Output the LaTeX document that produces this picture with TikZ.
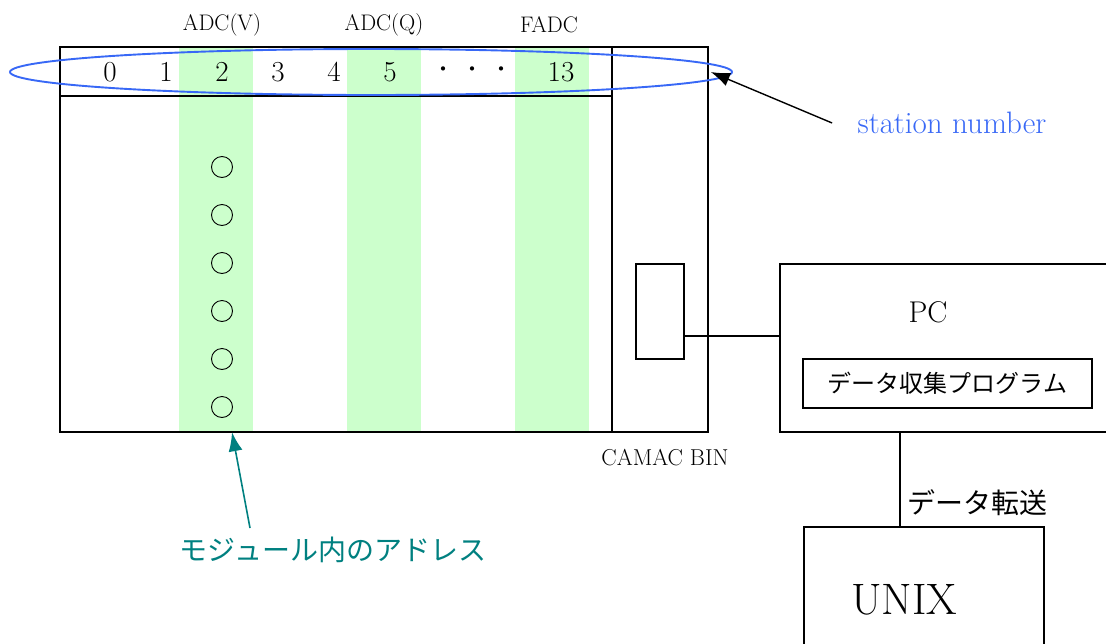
\documentclass[tikz,border=0pt]{standalone}
\usepackage{fontspec}
\newfontfamily\jfont{Noto Sans CJK JP}
\usepackage{tikz}
\usetikzlibrary{arrows.meta,positioning,calc,shapes.geometric}
\definecolor{slotgreen}{RGB}{204,255,204}
\definecolor{ringblue}{RGB}{56,104,246}
\definecolor{noteteal}{RGB}{0,128,128}

\begin{document}
\begin{tikzpicture}[
  x=1pt, y=-1pt,
  >={Latex[length=19pt, width=14pt]},
  box/.style={draw, line width=1.6pt, inner sep=0pt},
  slot/.style={fill=slotgreen, inner sep=0pt, minimum width=74pt, minimum height=385pt},
  hole/.style={circle, draw, line width=0.9pt, minimum size=21pt, inner sep=0pt},
  mod/.style={font=\fontsize{22.5}{24}\selectfont},
  num/.style={font=\fontsize{29}{31}\selectfont},
  big/.style={font=\fontsize{31}{33}\selectfont},
  jp/.style={font=\fontsize{28}{30}\selectfont\jfont},
]
\useasboundingbox (0,0) rectangle (1106,643);
\def\rowy{72}

% ---- module slots ------------------------------------------------------------
\foreach \x/\n in {216/s2, 384/s5, 552/s13}
  \node[slot] (\n) at (\x,239.5) {};

% ---- crate -----------------------------------------------------------------
\node[box, minimum width=648pt, minimum height=385pt] (crate) at (384,239.5) {};
\draw[line width=1.6pt] (612,47) -- (612,432);
\draw[line width=1.6pt] (60,96) -- (612,96);
\node[font=\fontsize{23}{25}\selectfont] (bin) at (665,458) {CAMAC BIN};

% ---- station numbers -----------------------------------------------------------
\foreach \n/\x in {0/110, 1/166, 2/222, 3/278, 4/334, 5/390, 13/561}
  \node[num] (st\n) at (\x,\rowy) {\n};
\foreach \i/\x in {1/443, 2/472, 3/501}
  \node[font=\fontsize{20}{22}\selectfont\jfont, inner sep=0pt] (dot\i) at (\x,\rowy) {・};
\node[mod] (adcv) at (222,25) {ADC(V)};
\node[mod] (adcq) at (384,25) {ADC(Q)};
\node[mod] (fadc) at (549,25) {FADC};

% ---- sub-addresses in slot 2 -------------------------------------------------
\foreach \i in {1,...,6}
  \node[hole] (a\i) at (222,{167+48*(\i-1)}) {};

% ---- station number marker -------------------------------------------------------
\node[ellipse, draw=ringblue, line width=1.9pt, minimum width=722pt, minimum height=46pt,
      inner sep=0pt] (ring) at (371,72) {};
\node[big, text=ringblue] (stn) at (952,123) {station number};
\draw[->, line width=1.4pt] ([xshift=-22pt]stn.west) -- ([xshift=2pt]crate.east |- ring.center);

% ---- sub-address note --------------------------------------------------------
\node[jp, text=noteteal] (addr) at (333,550) {モジュール内のアドレス};
\coordinate (addrtail) at (250,528);
\draw[->, noteteal, line width=1.6pt] (addrtail) -- ([xshift=16pt]s2.south);

% ---- interface and PC --------------------------------------------------------------
\node[box, minimum width=48pt, minimum height=95pt] (iface) at (660,311.5) {};
\node[box, minimum width=340pt, minimum height=168pt] (pc) at (950,348) {};
\node[font=\fontsize{30}{32}\selectfont] (pclbl) at (928,312) {PC};
\node[box, minimum width=289pt, minimum height=49pt, font=\fontsize{24}{26}\selectfont\jfont]
  (prog) at (947.5,383.5) {データ収集プログラム};
\coordinate (link) at (684,336);
\draw[line width=1.6pt] (link) -- (link -| pc.west);

% ---- UNIX ------------------------------------------------------------------
\node[box, minimum width=240pt, minimum height=140pt] (unix) at (924,597) {};
\node[font=\fontsize{44}{46}\selectfont] (unixlbl) at (904,600) {UNIX};
\coordinate (xfer) at (900,432);
\draw[line width=1.6pt] (xfer) -- (xfer |- unix.north);
\node[jp, anchor=west] (xferlbl) at (904,503) {データ転送};
\end{tikzpicture}
\end{document}
